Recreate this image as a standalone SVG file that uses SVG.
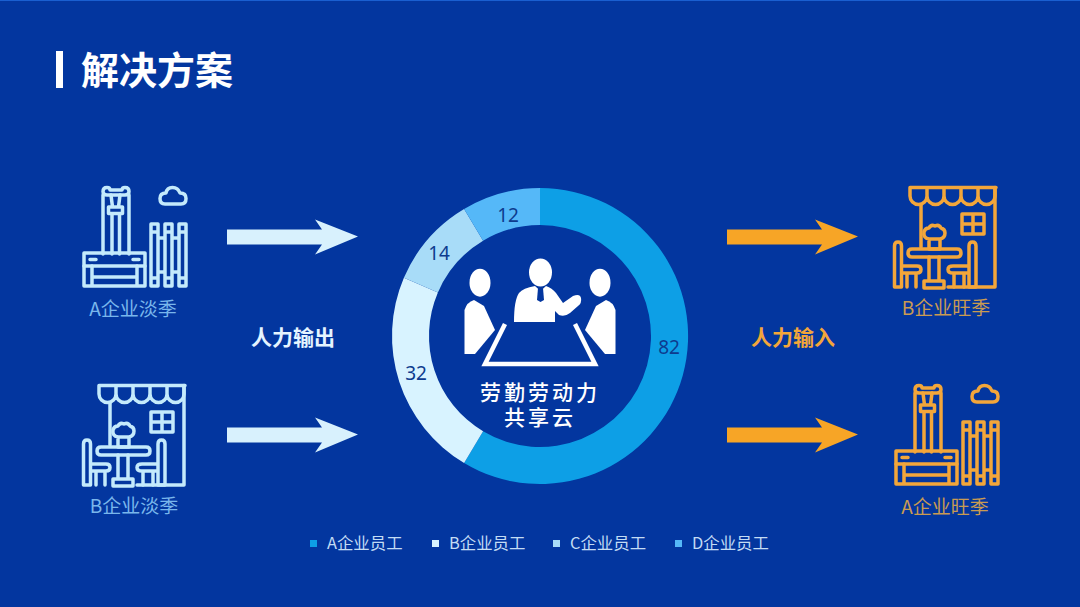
<svg xmlns="http://www.w3.org/2000/svg" width="1080" height="607" viewBox="0 0 1080 607">
<style>
text{font-family:"Noto Sans CJK SC","Noto Sans",sans-serif}
.ic{fill:none;stroke-width:3.500;stroke-linejoin:round;stroke-linecap:round}
.lt{stroke:#c4eafc}.og{stroke:#f3a63a}
.lab{font-size:19px;text-anchor:middle}
.lb1{fill:#79b6ec}.lb2{fill:#c99b52}
.big{font-size:21px;font-weight:700;text-anchor:middle}
.num{font-family:"Noto Sans",sans-serif;font-size:19px;text-anchor:middle;fill:#0d3b8e}
.leg{font-size:16.400px;fill:#c3dcf4}
.ctr{font-size:21px;fill:#fff;text-anchor:middle;font-weight:500;letter-spacing:3px}
</style>
<defs>
<g id="factory">
<path d="M107 187.500Q110 187.500 110 190H122Q122 187.500 125 187.500Q129 187.500 129 191.500Q129 195 125 195H107Q103 195 103 191.500Q103 187.500 107 187.500Z"/>
<path d="M103 195V254M129 195V254M111 195L112.500 207M120 195L118.500 207M108.500 207H122.500V213.500H108.500ZM112 213.500V254M119.500 213.500V254"/>
<path d="M84 253H145V266H84ZM90 259.500H96M133 259.500H139"/>
<path d="M84 266V286H145V266M92 266V286M137 266V286M92 277H137"/>
<path d="M151 224H158V286H151ZM165 224H172V286H165ZM179 224H186V286H179ZM151 232H158M165 232H172M179 232H186M151 278H158M165 278H172M179 278H186M158 238H165M172 238H179M158 272H165M172 272H179"/>
<path d="M165 204H181Q186 204 186 198.500Q186 193 180 193Q178 187.500 172.500 187.500Q167 187.500 166 193Q160 193 160 198.500Q160 204 165 204Z"/>
</g>
<g id="shop">
<path d="M99 385.500H185M99 385.500V394A8.500 8.500 0 0 0 116 394V385.500M116 394A8.500 8.500 0 0 0 133 394V385.500M133 394A8.500 8.500 0 0 0 150 394V385.500M150 394A8.500 8.500 0 0 0 167 394V385.500M167 394A8.500 8.500 0 0 0 184 394V385.500"/>
<path d="M184 385.500V485H137M110 403V445"/>
<path d="M151 412H173V432H151ZM162 412V432M151 422H173"/>
<path d="M101 447H146Q150 447 150 451Q150 455 146 455H101Q97 455 97 451Q97 447 101 447Z"/>
<path d="M118 455V479M128 455V479M113 479H133V486H113Z"/>
<path d="M118 437H129V447H118ZM118 437Q112 436 113 430Q114 426 118 426Q120 422 124 424Q128 422 130 426Q134 427 134 431Q134 436 129 437"/>
<path d="M83.500 485V444Q83.500 440 87 440Q90.500 440 90.500 444V485ZM90.500 464H106Q110 464 110 467.500Q110 471 106 471H90.500M96 471V485M105 471V485"/>
<path d="M165 485V444Q165 440 161.500 440Q158 440 158 444V485ZM158 464H142Q137 464 137 467.500Q137 471 142 471H158M143 471V485M153 471V485"/>
</g>
<polygon id="arrow" points="0,0 95,0 88,-10 131,7 88,25 95,15 0,15"/>
</defs>
<rect width="1080" height="607" fill="#03369f"/>
<rect width="1080" height="1" fill="#1a5fd0"/>
<g id="title">
<rect x="56" y="51" width="7" height="37" fill="#fff"/>
<text x="81" y="84" font-size="38" font-weight="700" fill="#fff">解决方案</text>
</g>
<g id="node-a-off">
<use href="#factory" class="ic lt"/>
<text x="133" y="316" class="lab lb1">A企业淡季</text>
</g>
<g id="node-b-off">
<use href="#shop" class="ic lt"/>
<text x="134" y="513" class="lab lb1">B企业淡季</text>
</g>
<g id="node-b-peak">
<use href="#shop" x="811" y="-198" class="ic og"/>
<text x="946" y="315" class="lab lb2">B企业旺季</text>
</g>
<g id="node-a-peak">
<use href="#factory" x="812" y="198" class="ic og"/>
<text x="945" y="514" class="lab lb2">A企业旺季</text>
</g>
<g id="connectors">
<use href="#arrow" x="227" y="229.500" fill="#d8f1fd"/>
<use href="#arrow" x="227" y="427.500" fill="#d8f1fd"/>
<use href="#arrow" x="727" y="229.500" fill="#f7a526"/>
<use href="#arrow" x="727" y="427.500" fill="#f7a526"/>
<text x="293" y="345" class="big" fill="#e4f4ff">人力输出</text>
<text x="793" y="345" class="big" fill="#f3a63a">人力输入</text>
</g>
<g id="donut">
<path fill="#0d9fe6" d="M540 188A148 148 0 1 1 464.100 463L483.100 431.300A111 111 0 1 0 540 225Z"/>
<path fill="#d8f3ff" d="M464.100 463A148 148 0 0 1 403.900 277.800L437.900 292.400A111 111 0 0 0 483.100 431.300Z"/>
<path fill="#a8dcf8" d="M403.900 277.800A148 148 0 0 1 464.100 209L483.100 240.700A111 111 0 0 0 437.900 292.400Z"/>
<path fill="#55b8f8" d="M464.100 209A148 148 0 0 1 540 188V225A111 111 0 0 0 483.100 240.700Z"/>
<text x="669" y="354" class="num">82</text>
<text x="416" y="380" class="num">32</text>
<text x="439" y="260" class="num">14</text>
<text x="508" y="222" class="num">12</text>
</g>
<g id="node-center">
<g fill="#fff">
<ellipse cx="540.500" cy="272.500" rx="11.500" ry="14"/>
<path d="M514 322Q514 300 519 293Q523 288 535 286L540.500 291L546 286Q552 288 556 293L563 303L573 296Q580 293 581 298Q582 303 578 306L570 313Q565 317 559 315L555 311V322Z"/>
<ellipse cx="480" cy="282.700" rx="10.500" ry="14"/>
<ellipse cx="600" cy="282.700" rx="10.500" ry="14"/>
<path d="M464.500 354V310Q467 302 474 300L484 306L495 330L475 354Z"/>
<path d="M615.500 354V310Q613 302 606 300L596 306L585 330L605 354Z"/>
</g>
<path d="M538 288H543L544 300L540.500 302L537 300Z" fill="#03369f"/>
<path d="M505 324L485 364H595L575 324" fill="none" stroke="#fff" stroke-width="4.500"/>
<text class="ctr"><tspan x="540" y="400">劳勤劳动力</tspan><tspan x="540" y="425">共享云</tspan></text>
</g>
<g id="legend">
<rect x="310" y="540" width="7" height="7" fill="#0d9fe6"/>
<text x="327" y="549" class="leg">A企业员工</text>
<rect x="432" y="540" width="7" height="7" fill="#d8f3ff"/>
<text x="449" y="549" class="leg">B企业员工</text>
<rect x="553" y="540" width="7" height="7" fill="#a8dcf8"/>
<text x="570" y="549" class="leg">C企业员工</text>
<rect x="675" y="540" width="7" height="7" fill="#55b8f8"/>
<text x="692" y="549" class="leg">D企业员工</text>
</g>
</svg>
